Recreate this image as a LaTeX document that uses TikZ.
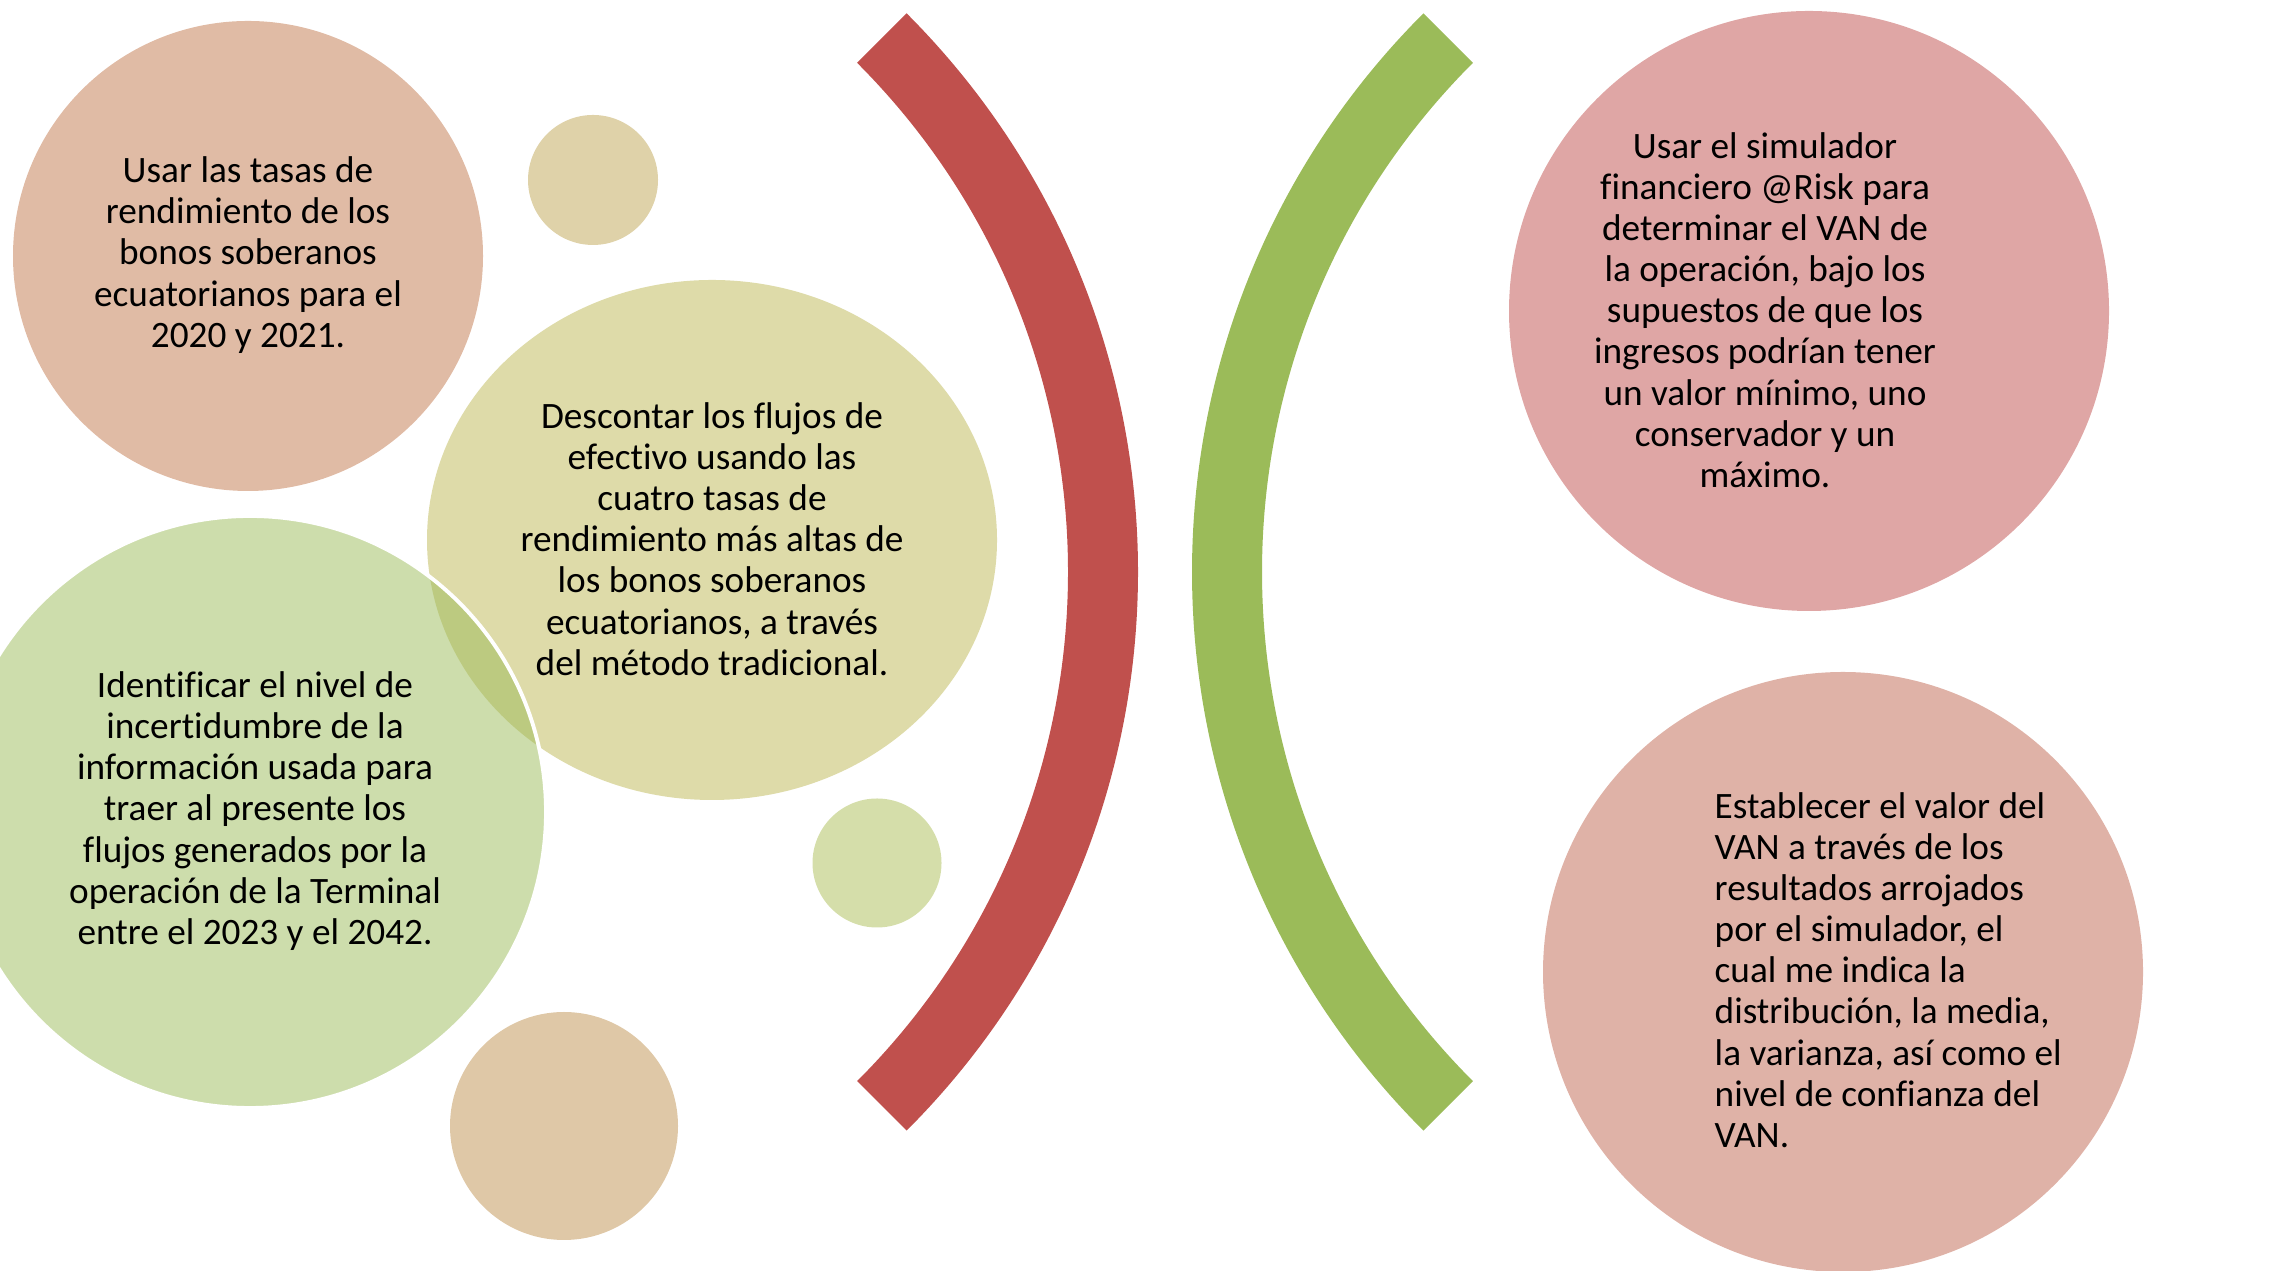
\documentclass[tikz,border=0pt]{standalone}
\usepackage{fontspec}
\setmainfont{Carlito}[Ligatures={NoCommon}]
\usepackage{tikz}
\usetikzlibrary{shapes.geometric}

\definecolor{rojoarco}{HTML}{C0504D}
\definecolor{verdearco}{HTML}{9BBB59}
\definecolor{salmon}{HTML}{E0BBA5}
\definecolor{arena}{HTML}{DFD2A9}
\definecolor{oliva}{HTML}{DEDBA9}
\definecolor{pistacho}{HTML}{D5DEAA}
\definecolor{trigo}{HTML}{DFC8A7}
\definecolor{rosa}{HTML}{DFA6A5}
\definecolor{rosapalo}{HTML}{DFB2A7}

\begin{document}
\begin{tikzpicture}[
    bubble/.style={circle, inner sep=0pt, draw=none},
    txt/.style={align=center, inner sep=0pt, font=\fontsize{10.6}{11.7}\selectfont}
  ]
        \useasboundingbox (0,0) rectangle (22.70,12.71);

        % Circles
        \node[bubble, fill=salmon, minimum size=4.70cm] (c1) at (2.48,10.15) {};
        \node[bubble, fill=arena, minimum size=1.30cm] (c2) at (5.93,10.91) {};
        \node[ellipse, inner sep=0pt, fill=oliva, minimum width=5.70cm, minimum height=5.20cm] (c3) at (7.12,7.31) {};
        \node[bubble, fill=verdearco, fill opacity=0.5, draw=white, line width=1.1pt, minimum size=5.92cm] (c4) at (2.50,4.59) {};
        \node[bubble, fill=pistacho, minimum size=1.29cm] (c5) at (8.77,4.08) {};
        \node[bubble, fill=trigo, minimum size=2.28cm] (c6) at (5.64,1.45) {};
        \node[bubble, fill=rosa, minimum size=6.00cm] (c7) at (18.09,9.60) {};
        \node[bubble, fill=rosapalo, minimum size=6.00cm] (c8) at (18.43,2.99) {};

        % Arcs
        \coordinate (rc) at (3.48,6.99);
        \coordinate (gc) at (19.82,6.99);
        \fill[rojoarco] (rc) ++(-45:7.90) arc[start angle=-45, end angle=45, radius=7.90]
            -- ++(225:0.70) arc[start angle=45, end angle=-45, radius=7.20] -- cycle;
        \fill[verdearco] (gc) ++(135:7.90) arc[start angle=135, end angle=225, radius=7.90]
            -- ++(45:0.70) arc[start angle=225, end angle=135, radius=7.20] -- cycle;

        % Texts
        \node[txt] (t1) at (2.48,10.16) {Usar las tasas de\\rendimiento de los\\bonos soberanos\\ecuatorianos para el\\2020 y 2021.};
        \node[txt] (t3) at (7.12,7.32) {Descontar los flujos de\\efectivo usando las\\cuatro tasas de\\rendimiento más altas de\\los bonos soberanos\\ecuatorianos, a través\\del método tradicional.};
        \node[txt] (t4) at (2.55,4.60) {Identificar el nivel de\\incertidumbre de la\\información usada para\\traer al presente los\\flujos generados por la\\operación de la Terminal\\entre el 2023 y el 2042.};
        \node[txt] (t7) at (17.65,9.61) {Usar el simulador\\financiero @Risk para\\determinar el VAN de\\la operación, bajo los\\supuestos de que los\\ingresos podrían tener\\un valor mínimo, uno\\conservador y un\\máximo.};
        \node[txt, align=left, anchor=west] (t8) at (17.14,3.01) {Establecer el valor del\\VAN a través de los\\resultados arrojados\\por el simulador, el\\cual me indica la\\distribución, la media,\\la varianza, así como el\\nivel de confianza del\\VAN.};

\end{tikzpicture}
\end{document}
